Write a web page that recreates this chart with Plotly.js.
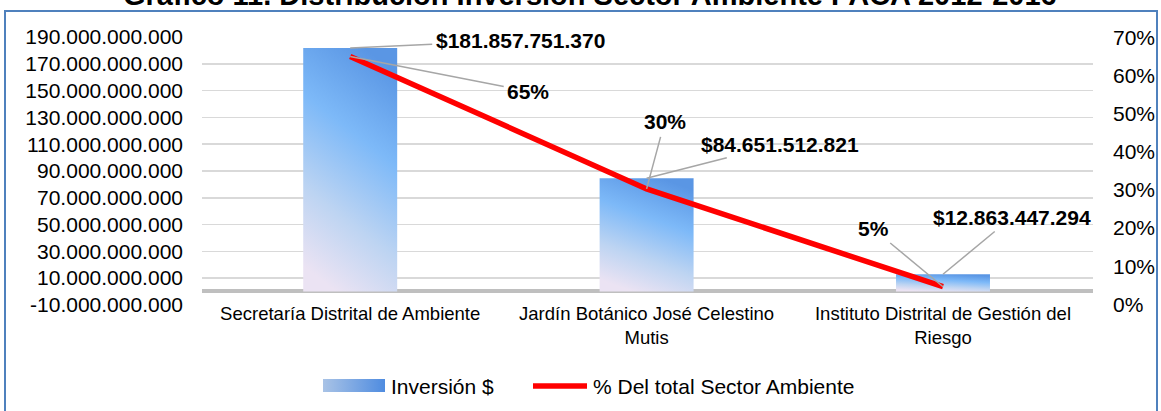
<!DOCTYPE html>
<html>
<head>
<meta charset="utf-8">
<script src="https://cdn.plot.ly/plotly-3.0.1.min.js"></script>
<style>
html,body{margin:0;padding:0;background:#fff;}
#chart{width:1161px;height:411px;}
</style>
</head>
<body>
<div id="chart"></div>
<script>
// ---- data ----
const categories = [
  "Secretaría Distrital de Ambiente",
  "Jardín Botánico José Celestino<br>Mutis",
  "Instituto Distrital de Gestión del<br>Riesgo"
];
const inversion = [181857751370, 84651512821, 12863447294];
const inversionLabels = ["$181.857.751.370", "$84.651.512.821", "$12.863.447.294"];
const pctTotal = [0.651, 0.303, 0.046];
const pctLabels = ["65%", "30%", "5%"];
const leftTickVals = [-10e9, 10e9, 30e9, 50e9, 70e9, 90e9, 110e9, 130e9, 150e9, 170e9, 190e9];
const leftTickText = ["-10.000.000.000", "10.000.000.000", "30.000.000.000", "50.000.000.000",
  "70.000.000.000", "90.000.000.000", "110.000.000.000", "130.000.000.000",
  "150.000.000.000", "170.000.000.000", "190.000.000.000"];
const rightTickVals = [0, 0.1, 0.2, 0.3, 0.4, 0.5, 0.6, 0.7];
const rightTickText = ["0%", "10%", "20%", "30%", "40%", "50%", "60%", "70%"];
const titleText = "Gráfico 11. Distribución Inversión Sector Ambiente PACA 2012-2016";
const seriesNames = ["Inversión $", "% Del total Sector Ambiente"];

// ---- layout helpers (pixels -> paper) ----
const W = 1161, H = 411;
const mL = 202, mR = 68, mT = 37, mB = 106;
const pw = W - mL - mR, ph = H - mT - mB;
const px = x => (x - mL) / pw;
const py = y => (H - mB - y) / ph;

const FONT = "Liberation Sans, Arial, sans-serif";
const BAR_COLOR = "#6fa8ef";
const LINE_COLOR = "#ff0000";

const traces = [
  {
    type: "bar",
    name: seriesNames[0],
    x: categories,
    y: inversion,
    marker: {color: BAR_COLOR, line: {width: 0}},
    yaxis: "y",
    hoverinfo: "skip",
    showlegend: false
  },
  {
    type: "scatter",
    mode: "lines",
    name: seriesNames[1],
    x: categories,
    y: pctTotal,
    yaxis: "y2",
    line: {color: LINE_COLOR, width: 5.5},
    hoverinfo: "skip",
    showlegend: false
  }
];

// data label annotations with leader lines
const labelOffsets = {
  inv: [[170, -8], [133, -34], [69, -57]],
  pct: [[178, 35], [18, -67], [-70, -58]]
};
const annotations = [];
inversion.forEach((v, i) => {
  annotations.push({
    x: categories[i], y: v, xref: "x", yref: "y",
    text: "<b>" + inversionLabels[i] + "</b>",
    showarrow: true, arrowhead: 0, arrowwidth: 1.5, arrowcolor: "#a6a6a6",
    standoff: 0, startstandoff: 2,
    ax: labelOffsets.inv[i][0], ay: labelOffsets.inv[i][1],
    font: {family: FONT, size: 21, color: "#000"}
  });
});
pctTotal.forEach((v, i) => {
  annotations.push({
    x: categories[i], y: v, xref: "x", yref: "y2",
    text: "<b>" + pctLabels[i] + "</b>",
    showarrow: true, arrowhead: 0, arrowwidth: 1.5, arrowcolor: "#a6a6a6",
    standoff: 0, startstandoff: 2,
    ax: labelOffsets.pct[i][0], ay: labelOffsets.pct[i][1],
    font: {family: FONT, size: 21, color: "#000"}
  });
});
// title (cut off at the top, as in the reference)
annotations.push({
  xref: "paper", yref: "paper", x: px(590), y: py(-5),
  xanchor: "center", yanchor: "middle", showarrow: false,
  text: "<b>" + titleText + "</b>",
  font: {family: FONT, size: 29, color: "#000"}
});
// custom legend texts
annotations.push({
  xref: "paper", yref: "paper", x: px(389), y: py(386),
  xanchor: "left", yanchor: "middle", showarrow: false,
  text: seriesNames[0], font: {family: FONT, size: 21, color: "#000"}
});
annotations.push({
  xref: "paper", yref: "paper", x: px(591), y: py(386),
  xanchor: "left", yanchor: "middle", showarrow: false,
  text: seriesNames[1], font: {family: FONT, size: 21, color: "#000"}
});

const layout = {
  width: W, height: H,
  margin: {l: mL, r: mR, t: mT, b: mB, pad: 0},
  paper_bgcolor: "#ffffff",
  plot_bgcolor: "#ffffff",
  font: {family: FONT, color: "#000"},
  showlegend: false,
  bargap: 0.683,
  xaxis: {
    type: "category",
    anchor: "free", position: 5 / ph,
    showgrid: false, zeroline: false, showline: false,
    ticks: "", ticklabelstandoff: 0,
    tickfont: {family: FONT, size: 18.5, color: "#000"},
    fixedrange: true
  },
  yaxis: {
    range: [-10.1e9, 190.1e9],
    tickmode: "array", tickvals: leftTickVals, ticktext: leftTickText,
    showgrid: true, gridcolor: "#d9d9d9", gridwidth: 1.5,
    zeroline: true, zerolinecolor: "#bfbfbf", zerolinewidth: 4,
    showline: false, ticks: "", ticklabelstandoff: 18,
    tickfont: {family: FONT, size: 21, color: "#000"},
    fixedrange: true
  },
  yaxis2: {
    overlaying: "y", side: "right",
    range: [-0.002, 0.702],
    tickmode: "array", tickvals: rightTickVals, ticktext: rightTickText,
    showgrid: false, zeroline: false, showline: false,
    ticks: "", ticklabelstandoff: 19,
    tickfont: {family: FONT, size: 21, color: "#000"},
    fixedrange: true
  },
  annotations: annotations,
  shapes: [
    {
      type: "rect", xref: "paper", yref: "paper", layer: "below",
      x0: px(5), x1: px(1157), y0: py(440), y1: py(11),
      line: {color: "#4f81bd", width: 2}, fillcolor: "rgba(0,0,0,0)"
    },
    { // legend swatch: bars
      type: "rect", xref: "paper", yref: "paper", layer: "above",
      x0: px(323), x1: px(385), y0: py(392), y1: py(379),
      line: {width: 0}, fillcolor: BAR_COLOR
    },
    { // legend swatch: line
      type: "line", xref: "paper", yref: "paper", layer: "above",
      x0: px(533), x1: px(587), y0: py(386), y1: py(386),
      line: {color: LINE_COLOR, width: 5.5}
    }
  ]
};

const gd = document.getElementById("chart");
Plotly.newPlot(gd, traces, layout, {displayModeBar: false, staticPlot: true}).then(() => {
  const svgNS = "http://www.w3.org/2000/svg";
  const svg = gd.querySelector("svg.main-svg");
  let defs = svg.querySelector("defs");
  if (!defs) { defs = document.createElementNS(svgNS, "defs"); svg.insertBefore(defs, svg.firstChild); }
  function grad(id, x1, y1, x2, y2, stops) {
    const g = document.createElementNS(svgNS, "linearGradient");
    g.setAttribute("id", id);
    g.setAttribute("x1", x1); g.setAttribute("y1", y1);
    g.setAttribute("x2", x2); g.setAttribute("y2", y2);
    stops.forEach(s => {
      const st = document.createElementNS(svgNS, "stop");
      st.setAttribute("offset", s[0]);
      st.setAttribute("stop-color", s[1]);
      g.appendChild(st);
    });
    defs.appendChild(g);
  }
  grad("barGrad", "0.35", "1", "0.65", "0", [["0", "#ebe3f3"], ["0.3", "#bdd4f2"], ["0.65", "#7db9f8"], ["1", "#5a96e4"]]);
  grad("legGrad", "0", "0.5", "1", "0.5", [["0", "#a9c3e6"], ["1", "#4f8ce0"]]);
  gd.querySelectorAll(".barlayer .point path").forEach(p => { p.style.fill = "url(#barGrad)"; });
  gd.querySelectorAll(".shapelayer path").forEach(p => {
    const f = (p.style.fill || "").replace(/\s/g, "");
    if (f === "rgb(111,168,239)") p.style.fill = "url(#legGrad)";
  });
});
</script>
</body>
</html>
